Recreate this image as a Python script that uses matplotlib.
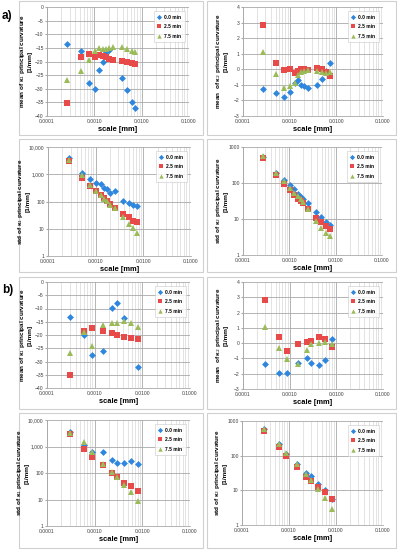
import numpy as np
import matplotlib
matplotlib.use("Agg")
import matplotlib.pyplot as plt
from matplotlib.patches import Rectangle
from matplotlib.ticker import FixedLocator, LogLocator, NullFormatter, FuncFormatter

plt.rcParams['font.family'] = ['Liberation Sans', 'DejaVu Sans']

# scales (x) for group a) and group b)
scale_a = [0.00027, 0.00052, 0.00077, 0.00102, 0.00127, 0.00152, 0.00177,
           0.00202, 0.0025, 0.0038, 0.0049, 0.0061, 0.0074]
scale_b = [0.0003, 0.0006, 0.00087, 0.0015, 0.0023, 0.0029, 0.0042, 0.0057, 0.0082]

series_names = ['0.0 min', '2.5 min', '7.5 min']

# a) mean k1
a_mean1_00 = [-13.4, -16.1, -28, -30, -23, -20, -16.5, -15.8, np.nan, -26.1, -30.4, -34.7, -36.9]
a_mean1_25 = [-35.2, -18.3, -17.2, -18.3, -17.6, -18, -18.5, -19, -19.3, -19.7, -20, -20.5, -21]
a_mean1_75 = [-26.8, -23.5, -19.5, -16.1, -15, -15.5, -15.3, -15, -14.5, -14.6, -15.3, -16, -16.5]
# a) mean k2
a_mean2_00 = [-1.29, -1.5, -1.76, -1.46, -0.86, -0.71, -0.99, -1.07, -1.2, -1.03, -0.65, -0.1, 0.42]
a_mean2_25 = [2.85, 0.38, -0.07, 0.01, -0.26, -0.1, 0.01, 0.03, -0.03, 0.08, 0.01, -0.18, -0.41]
a_mean2_75 = [1.08, -0.29, -1.22, -1.05, -0.9, -0.39, -0.16, -0.12, -0.07, -0.14, -0.18, -0.22, -0.18]
# a) std k1
a_std1_00 = [3950, 1110, 650, 490, 425, 323, 280, 205, 236, 101, 88, 77, 67]
a_std1_25 = [3060, 728, 360, 236, 168, 134, 107, 83, 58, 36, 27, 20, 17.7]
a_std1_75 = [3430, 910, 415, 250, 168, 127, 101, 77, 58, 27, 15.4, 11, 7.2]
# a) std k2
a_std2_00 = [528, 195, 124, 87, 66, 51, 42, 36, 27, 15.8, 11.3, 8.0, 6.6]
a_std2_25 = [495, 171, 96, 63, 46, 37, 31, 27, 18.8, 10.8, 8.0, 6.5, 5.4]
a_std2_75 = [562, 195, 112, 73, 54, 44, 37, 30, 18.8, 8.7, 5.7, 4.2, 3.4]

# b) mean k1
b_mean1_00 = [-13.3, -20, -27.7, -26.2, -9.7, -7.8, -13.5, np.nan, -32.2]
b_mean1_25 = [-35, -18.4, -17.3, -18.4, -19.3, -20, -20.8, -21, -21.5]
b_mean1_75 = [-26.8, -18.8, -24.2, -16.3, -15.3, -15.3, -14.7, -15.6, -17]
# b) mean k2
b_mean2_00 = [-1.34, -1.98, -1.93, -1.27, -0.95, -1.33, -1.43, -1.13, 0.3]
b_mean2_25 = [2.85, 0.4, -0.52, -0.04, 0.05, 0.13, 0.4, 0.27, -0.25]
b_mean2_75 = [1.08, -0.33, -1.05, -1.35, -0.48, -0.08, 0.03, 0.1, -0.03]
# b) std k1
b_std1_00 = [3630, 1100, 640, 640, 310, 232, 232, 292, 225]
b_std1_25 = [2880, 830, 390, 201, 103, 72, 43, 32, 21.5]
b_std1_75 = [3300, 1520, 640, 218, 106, 72, 35, 20, 8.5]
# b) std k2
b_std2_00 = [576, 214, 115, 59, 32, 25.5, 15.7, 10.1, 5.8]
b_std2_25 = [515, 179, 98, 47.5, 24.4, 18.8, 12.1, 9.1, 5.8]
b_std2_75 = [576, 214, 123, 59, 29, 20.5, 10.8, 6.2, 2.8]

colors = ['#2E86DE', '#E84A4A', '#9BBB59']
markers = ['D', 's', '^']
msizes = [3.5, 4.5, 4.2]

W, H = 398, 550
fig = plt.figure(figsize=(W / 100, H / 100), dpi=100)


def box(l, t, r, b):
    fig.add_artist(Rectangle((l / W, 1 - b / H), (r - l) / W, (b - t) / H,
                             transform=fig.transFigure, facecolor='white',
                             edgecolor='#D0D0D0', linewidth=0.8, zorder=0))


def px_axes(l, t, r, b):
    return fig.add_axes([l / W, 1 - b / H, (r - l) / W, (b - t) / H])


def comma_fmt(v, pos):
    return '{:,.0f}'.format(v)


def panel(rect, x, ys, ylabel, kind, label_x):
    ax = px_axes(*rect)
    ax.set_xscale('log')
    ax.set_xlim(0.0001, 0.1)
    ax.xaxis.set_major_locator(FixedLocator([0.0001, 0.001, 0.01, 0.1]))
    ax.xaxis.set_major_formatter(FuncFormatter(lambda v, p: '{:.4f}'.format(v)))
    ax.xaxis.set_minor_locator(LogLocator(base=10, subs=np.arange(2, 10), numticks=20))
    ax.xaxis.set_minor_formatter(NullFormatter())
    if kind == 'mean1':
        ax.set_ylim(-40, 0)
        ax.set_yticks(np.arange(-40, 1, 5))
    elif kind == 'mean2':
        ax.set_ylim(-3, 4)
        ax.set_yticks(np.arange(-3, 5, 1))
    elif kind == 'std1':
        ax.set_yscale('log')
        ax.set_ylim(1, 10000)
        ax.set_yticks([1, 10, 100, 1000, 10000])
        ax.yaxis.set_major_formatter(FuncFormatter(comma_fmt))
        ax.yaxis.set_minor_locator(FixedLocator([]))
    else:
        ax.set_yscale('log')
        ax.set_ylim(1, 1000)
        ax.set_yticks([1, 10, 100, 1000])
        ax.yaxis.set_major_formatter(FuncFormatter(lambda v, p: '{:.0f}'.format(v)))
        ax.yaxis.set_minor_locator(FixedLocator([]))

    ax.grid(True, which='major', color='#A8A8A8', linewidth=0.6)
    ax.grid(True, which='minor', axis='x', color='#D8D8D8', linewidth=0.5)
    ax.set_axisbelow(True)
    for s in ax.spines.values():
        s.set_visible(False)
    for side in ('left', 'bottom'):
        ax.spines[side].set_visible(True)
        ax.spines[side].set_color('#A8A8A8')
        ax.spines[side].set_linewidth(0.6)
    ax.tick_params(which='both', length=0, labelsize=3.6, pad=2, colors='#404040')
    ax.tick_params(axis='y', length=1.2, pad=1.2, color='#A8A8A8')

    for y, c, m, ms, name in zip(ys, colors, markers, msizes, series_names):
        ax.plot(x, y, linestyle='none', marker=m, color=c, markersize=ms,
                markeredgewidth=0, label=name)

    ax.set_xlabel('scale [mm]', fontsize=5.4, fontweight='bold', labelpad=1.5)
    ax.set_ylabel(ylabel, fontsize=4.6, fontweight='bold', linespacing=1.2)
    # right edge of the (rotated) label, in pixels from the figure's left
    ax.yaxis.set_label_coords((label_x - rect[0]) / (rect[2] - rect[0]), 0.5)
    leg = ax.legend(loc='upper right', fontsize=3.5, frameon=True, handlelength=0.8,
                    handletextpad=0.6, borderpad=0.7, labelspacing=0.9,
                    borderaxespad=0.9, fancybox=False, markerscale=0.75)
    leg.get_frame().set_edgecolor('#C8C8C8')
    leg.get_frame().set_linewidth(0.5)
    for t in leg.get_texts():
        t.set_fontweight('bold')
    return ax


# panel boxes
box(19, 1, 203, 135)
box(207, 1, 396, 135)
box(19, 139, 203, 272)
box(207, 139, 396, 272)
box(19, 277, 203, 409)
box(207, 277, 396, 409)
box(19, 413, 203, 548)
box(207, 413, 396, 548)

lbl_m1 = 'mean of \u03ba$_1$ principal curvature\n[1/mm]'
lbl_m2 = 'mean  of \u03ba$_2$ principal curvature\n[1/mm]'
lbl_s1 = 'std of \u03ba$_1$ principal curvature\n[1/mm]'
lbl_s2 = 'std of \u03ba$_2$ principal curvature\n[1/mm]'

panel((47, 7, 189, 116), scale_a, [a_mean1_00, a_mean1_25, a_mean1_75], lbl_m1, 'mean1', 33)
panel((243, 7, 383, 116), scale_a, [a_mean2_00, a_mean2_25, a_mean2_75], lbl_m2, 'mean2', 229)
panel((48, 147, 191, 256), scale_a, [a_std1_00, a_std1_25, a_std1_75], lbl_s1, 'std1', 31)
panel((243, 147, 382, 255), scale_a, [a_std2_00, a_std2_25, a_std2_75], lbl_s2, 'std2', 229)
panel((47, 282, 190, 388), scale_b, [b_mean1_00, b_mean1_25, b_mean1_75], lbl_m1, 'mean1', 33)
panel((243, 282, 383, 389), scale_b, [b_mean2_00, b_mean2_25, b_mean2_75], lbl_m2, 'mean2', 229)
panel((47, 420, 190, 526), scale_b, [b_std1_00, b_std1_25, b_std1_75], lbl_s1, 'std1', 30)
panel((242, 421, 383, 525), scale_b, [b_std2_00, b_std2_25, b_std2_75], lbl_s2, 'std2', 228)

fig.text(2 / W, 1 - 16 / H, 'a)', fontsize=8.5, fontweight='bold', va='center', ha='left')
fig.text(2 / W, 1 - 290 / H, 'b)', fontsize=8.5, fontweight='bold', va='center', ha='left')

fig.savefig('out.png', dpi=100)
